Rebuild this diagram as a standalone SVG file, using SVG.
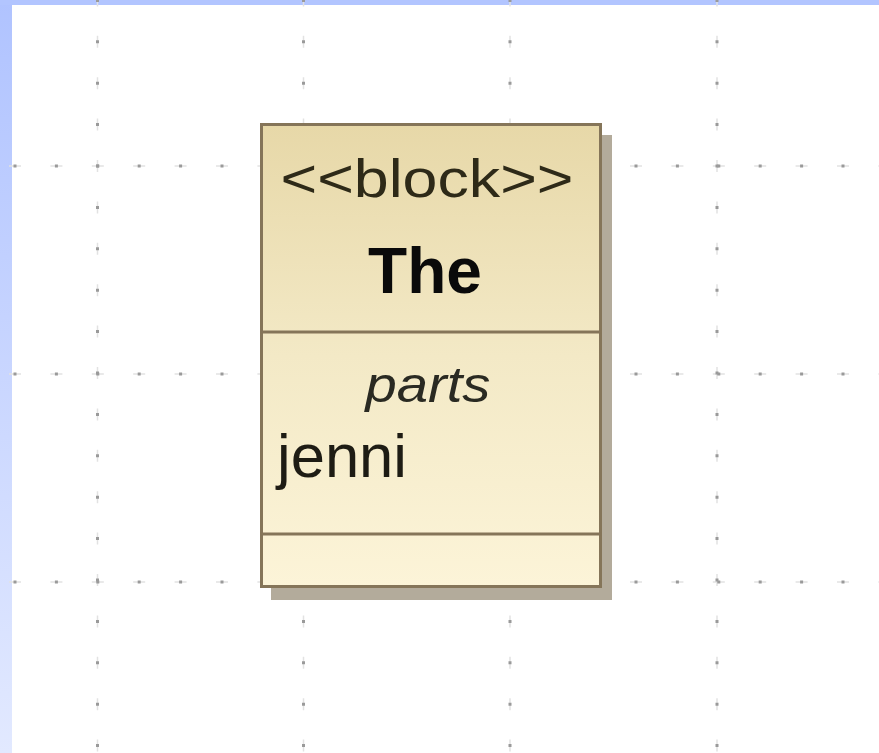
<svg xmlns="http://www.w3.org/2000/svg" width="879" height="753" viewBox="0 0 879 753">
  <defs>
    <linearGradient id="side" x1="0" y1="0" x2="0" y2="1">
      <stop offset="0" stop-color="#b0c3ff"/>
      <stop offset="1" stop-color="#e2e9ff"/>
    </linearGradient>
    <linearGradient id="fill" x1="0" y1="0" x2="0" y2="1">
      <stop offset="0" stop-color="#e7d8a8"/>
      <stop offset="0.5" stop-color="#f3e9c6"/>
      <stop offset="1" stop-color="#fcf4d8"/>
    </linearGradient>
    <style>
      .dot { stroke: #9a9a9a; stroke-width: 3; stroke-dasharray: 3 38.4; fill: none; }
      .arm { stroke: #e2e2e2; stroke-width: 1.5; stroke-dasharray: 12 29.4; fill: none; }
      .frame { fill: url(#fill); stroke: #857559; stroke-width: 3; }
      .div { stroke: #857559; stroke-width: 3; }
      .t { font-family: "Liberation Sans", Arial, sans-serif; }
    </style>
  </defs>

  <rect x="0" y="0" width="879" height="753" fill="#ffffff"/>
  <rect x="0" y="0" width="12" height="753" fill="url(#side)"/>
  <rect x="0" y="0" width="879" height="5" fill="#b2c5ff"/>

  <g id="grid">
    <line class="arm" x1="9" y1="166" x2="879" y2="166"/>
    <line class="arm" x1="9" y1="374" x2="879" y2="374"/>
    <line class="arm" x1="9" y1="582" x2="879" y2="582"/>
    <line class="arm" x1="97.5" y1="-5.6" x2="97.5" y2="753"/>
    <line class="arm" x1="303.5" y1="-5.6" x2="303.5" y2="753"/>
    <line class="arm" x1="510" y1="-5.6" x2="510" y2="753"/>
    <line class="arm" x1="717" y1="-5.6" x2="717" y2="753"/>
    <line class="dot" x1="13.5" y1="166" x2="879" y2="166"/>
    <line class="dot" x1="13.5" y1="374" x2="879" y2="374"/>
    <line class="dot" x1="13.5" y1="582" x2="879" y2="582"/>
    <line class="dot" x1="97.5" y1="-1.1" x2="97.5" y2="753"/>
    <line class="dot" x1="303.5" y1="-1.1" x2="303.5" y2="753"/>
    <line class="dot" x1="510" y1="-1.1" x2="510" y2="753"/>
    <line class="dot" x1="717" y1="-1.1" x2="717" y2="753"/>
  </g>

  <g id="connectors"/>

  <g id="block-The">
    <rect x="271" y="135" width="341" height="465" fill="#b3ab9b"/>
    <rect class="frame" x="261.5" y="124.5" width="339" height="462"/>
    <line class="div" x1="261.5" y1="332" x2="600.5" y2="332"/>
    <line class="div" x1="261.5" y1="534" x2="600.5" y2="534"/>
    <text class="t" x="427" y="197" font-size="54" fill="#2e2a18" text-anchor="middle" textLength="293" lengthAdjust="spacingAndGlyphs">&lt;&lt;block&gt;&gt;</text>
    <text class="t" x="425" y="293" font-size="64" font-weight="bold" fill="#0a0a0a" text-anchor="middle">The</text>
    <text class="t" x="428" y="402" font-size="50" font-style="italic" fill="#2a2a22" text-anchor="middle" textLength="125" lengthAdjust="spacingAndGlyphs">parts</text>
    <text class="t" x="277" y="477" font-size="61" fill="#1e1c14" textLength="130" lengthAdjust="spacingAndGlyphs">jenni</text>
  </g>
</svg>
